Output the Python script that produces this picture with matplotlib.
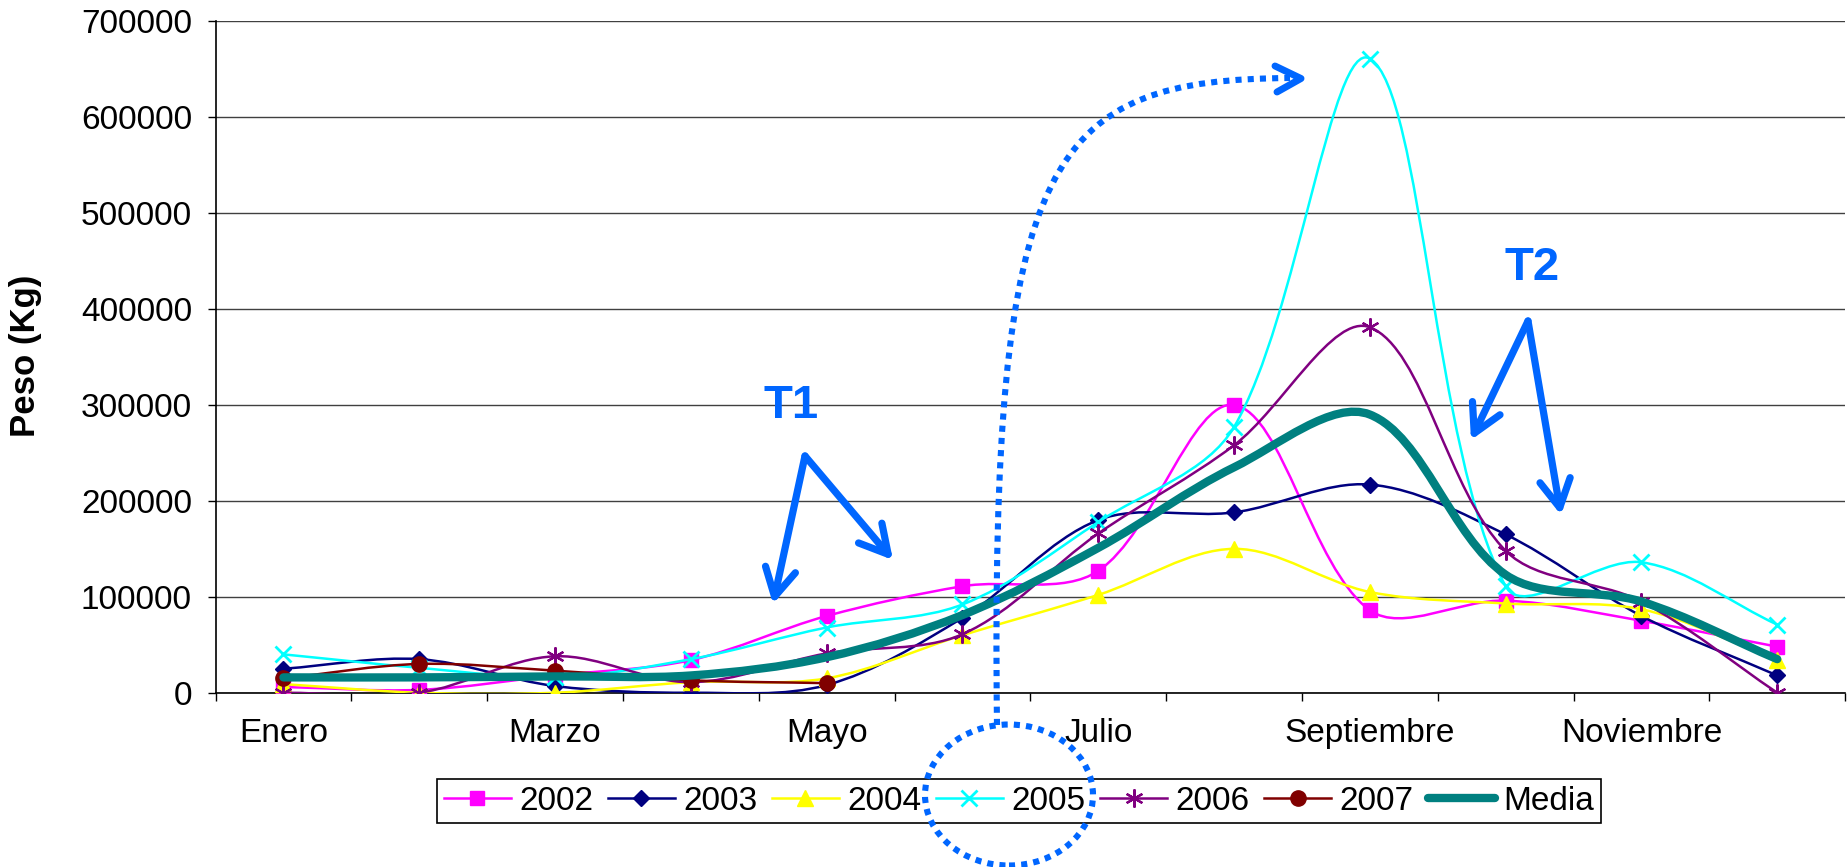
import numpy as np
import matplotlib
matplotlib.use('Agg')
import matplotlib.pyplot as plt
from matplotlib.path import Path
from matplotlib.patches import PathPatch, Ellipse
from matplotlib.lines import Line2D
from matplotlib.text import Annotation
from matplotlib.ticker import FuncFormatter

plt.rcParams['font.family'] = 'Liberation Sans'

# Data (kg per month)
meses = ['Enero', 'Febrero', 'Marzo', 'Abril', 'Mayo', 'Junio', 'Julio',
         'Agosto', 'Septiembre', 'Octubre', 'Noviembre', 'Diciembre']
y2002 = [6000, 3000, 18000, 34000, 80000, 111000, 127000, 300000, 86000, 96000, 75000, 48000]
y2003 = [25000, 35000, 7000, 0, 8000, 78000, 180000, 188000, 217000, 165000, 80000, 18000]
y2004 = [9000, 0, 0, 11000, 15000, 60000, 102000, 150000, 105000, 93000, 87000, 34000]
y2005 = [40000, 26000, 16000, 35000, 68000, 92000, 178000, 277000, 661000, 111000, 136000, 71000]
y2006 = [0, 0, 38000, 11000, 41000, 61000, 166000, 258000, 381000, 148000, 95000, 0]
y2007 = [15000, 30000, 23000, 13000, 10000]
media = [16000, 16000, 17000, 18000, 37000, 81000, 151000, 235000, 290000, 123000, 95000, 35000]

W, H = 1847, 867
blue = '#0066ff'
# screen scale used for the smoothing (px per month, px per kg)
SX, SY = 136.0, 96.0 / 100000


def smooth_path(ys):
    # Excel-like smoothed line: chord-weighted cubic Bezier through each point
    xs = np.arange(len(ys), dtype=float)
    ys = np.asarray(ys, dtype=float)
    pts = np.column_stack([xs * SX, ys * SY])
    ext = np.vstack([pts[:1], pts, pts[-1:]])
    d = np.r_[0, np.hypot(*np.diff(ext, axis=0).T)]  # d[k] = |ext[k]-ext[k-1]|
    verts = [pts[0]]
    codes = [Path.MOVETO]
    for i in range(len(pts) - 1):
        a, b, c, e = ext[i], ext[i + 1], ext[i + 2], ext[i + 3]
        dab, dbc, dce = d[i + 1], d[i + 2], d[i + 3]
        w1 = dbc / (dab + dbc) / 3 if dab + dbc > 0 else 0
        w2 = dbc / (dbc + dce) / 3 if dbc + dce > 0 else 0
        c1 = b + (c - a) * w1
        c2 = c - (e - b) * w2
        verts += [c1, c2, c]
        codes += [Path.CURVE4] * 3
    verts = np.array(verts) / [SX, SY]
    return Path(verts, codes)


def fp(x, y):
    # pixel position (from top-left) -> figure fraction
    return (x / W, 1 - y / H)


fig = plt.figure(figsize=(W / 100, H / 100), dpi=100)
ax = fig.add_axes([0.1167, 0.201, 0.8823, 0.7745])

series = [
    ('2002', y2002, '#ff00ff', dict(marker='s', ms=10)),
    ('2003', y2003, '#000080', dict(marker='D', ms=8)),
    ('2004', y2004, '#ffff00', dict(marker='^', ms=11)),
    ('2005', y2005, '#00ffff', dict(marker='x', ms=11, mew=2)),
    ('2006', y2006, '#800080', dict(marker=(6, 2, 0), ms=13, mew=1.6)),
    ('2007', y2007, '#800000', dict(marker='o', ms=11)),
]

handles = []
for i, (lab, vals, col, mk) in enumerate(series):
    ax.add_patch(PathPatch(smooth_path(vals), fill=False, edgecolor=col, lw=1.8, zorder=3 + i * 0.1))
    ax.plot(np.arange(len(vals)), vals, ls='none', color=col, mec=col, zorder=3.05 + i * 0.1, **mk)
    handles.append(Line2D([], [], color=col, mec=col, lw=1.8, **mk))

ax.add_patch(PathPatch(smooth_path(media), fill=False, edgecolor='#008080', lw=6,
                       capstyle='round', joinstyle='round', zorder=4))
handles.append(Line2D([], [], color='#008080', lw=6, solid_capstyle='round'))

ax.set_xlim(-0.5, 11.5)
ax.set_ylim(0, 700000)
ax.set_xticks(np.arange(-0.5, 12, 1))
ax.set_xticks(np.arange(12), minor=True)
ax.set_xticklabels([m if k % 2 == 0 else '' for k, m in enumerate(meses)], minor=True)
ax.tick_params(axis='x', which='major', length=6, width=1, labelbottom=False)
ax.tick_params(axis='x', which='minor', length=0, pad=18, labelsize=24)
ax.set_yticks(np.arange(0, 700001, 100000))
ax.yaxis.set_major_formatter(FuncFormatter(lambda v, _: f'{int(v)}'))
ax.tick_params(axis='y', length=6, width=1, pad=11, labelsize=24)
ax.grid(axis='y', color='#404040', lw=1)
ax.set_axisbelow(True)
for s in ['top', 'right']:
    ax.spines[s].set_visible(False)
for s in ['left', 'bottom']:
    ax.spines[s].set_linewidth(1.2)

fig.text(*fp(26, 356), 'Peso (Kg)', rotation=90, fontweight='bold', fontsize=25,
         ha='center', va='center')

leg = fig.legend(handles, [s[0] for s in series] + ['Media'], loc='center',
                 bbox_to_anchor=fp(1019, 801), ncol=7, fontsize=24, handlelength=2.0,
                 handletextpad=0.25, columnspacing=0.45, borderpad=0.2, fancybox=False,
                 edgecolor='black', framealpha=1)
leg.get_frame().set_linewidth(1.2)

# T1 / T2 annotations
fig.text(*fp(791, 406), 'T1', color=blue, fontsize=34, fontweight='bold', ha='center', va='center')
fig.text(*fp(1532, 268), 'T2', color=blue, fontsize=34, fontweight='bold', ha='center', va='center')
arrow = dict(arrowstyle='->,head_length=1.0,head_width=0.55', lw=5.2, color=blue,
             mutation_scale=20, shrinkA=0, shrinkB=0)
for apex, ends in [((805, 456), [(773, 604), (893, 560)]),
                   ((1528, 321), [(1471, 440), (1561, 515)])]:
    for end in ends:
        fig.add_artist(Annotation('', xy=fp(*end), xytext=fp(*apex),
                                  xycoords='figure fraction', arrowprops=arrow))

# dotted curve from legend entry to the September peak
curve = Path([fp(997, 725), fp(990, 150), fp(1050, 80), fp(1290, 78)],
             [Path.MOVETO, Path.CURVE4, Path.CURVE4, Path.CURVE4])
fig.add_artist(PathPatch(curve, transform=fig.transFigure, fill=False, edgecolor=blue,
                         lw=4.4, linestyle=(0, (1, 1)), zorder=6))
hx, hy = zip(fp(1275, 66), fp(1301, 78.5), fp(1277, 92))
fig.add_artist(Line2D(hx, hy, transform=fig.transFigure, color=blue, lw=5,
                      solid_capstyle='round', zorder=6))
fig.add_artist(Ellipse(fp(1009, 795), 168 / W, 141 / H, transform=fig.transFigure,
                       fill=False, edgecolor=blue, lw=4.4, linestyle=(0, (1, 1)), zorder=6))

fig.savefig('out.png', dpi=100)
